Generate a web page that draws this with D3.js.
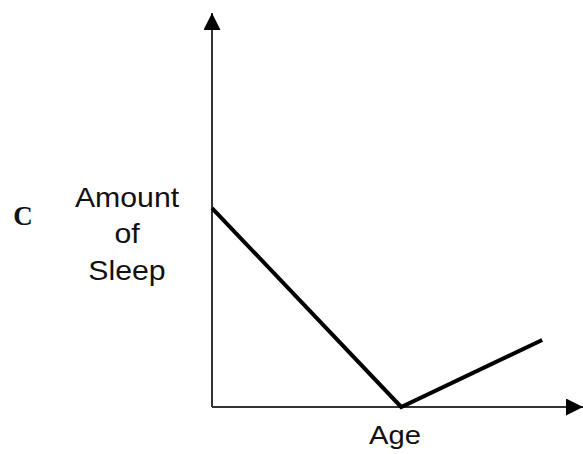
<!DOCTYPE html>
<html>
<head>
<meta charset="utf-8">
<script src="https://cdn.jsdelivr.net/npm/d3@7"></script>
<style>
  html, body { margin: 0; padding: 0; background: #fff; }
  svg { display: block; }
</style>
</head>
<body>
<svg id="chart" width="583" height="454"></svg>
<script>
// sketch values, in arbitrary units
var ages    = [0, 5.1, 8.9];
var amounts = [5.05, 0, 1.7];
var yLabel  = ["Amount", "of", "Sleep"];
var xLabel  = "Age";
var panel   = "C";

var width = 583, height = 454;
var svg = d3.select("#chart");

var x = d3.scaleLinear().domain([0, 10]).range([212, 583]);
var y = d3.scaleLinear().domain([0, 10]).range([407, 13]);

var defs = svg.append("defs");
defs.append("marker")
    .attr("id", "arrow")
    .attr("viewBox", "0 0 10 10")
    .attr("refX", 10).attr("refY", 5)
    .attr("markerWidth", 18).attr("markerHeight", 17)
    .attr("markerUnits", "userSpaceOnUse")
    .attr("orient", "auto")
  .append("path")
    .attr("d", "M0,0 L10,5 L0,10 Z")
    .attr("fill", "#000");

// axes
svg.append("line")
    .attr("x1", x(0)).attr("y1", y(0))
    .attr("x2", x(0)).attr("y2", y(10))
    .attr("stroke", "#333").attr("stroke-width", 2)
    .attr("marker-end", "url(#arrow)");
svg.append("line")
    .attr("x1", x(0)).attr("y1", y(0))
    .attr("x2", x(10)).attr("y2", y(0))
    .attr("stroke", "#333").attr("stroke-width", 2)
    .attr("marker-end", "url(#arrow)");

var pts = ages.map(function(a, i) { return [a, amounts[i]]; });
var line = d3.line()
    .x(function(d) { return x(d[0]); })
    .y(function(d) { return y(d[1]); });

svg.append("path")
    .datum(pts)
    .attr("d", line)
    .attr("fill", "none")
    .attr("stroke", "#000")
    .attr("stroke-width", 4)
    .attr("stroke-linejoin", "miter");

// labels (source text is a bit wide, so stretch it)
var yl = svg.append("g")
    .attr("transform", "translate(127,0) scale(1.1,1)");
yl.selectAll("text")
  .data(yLabel)
  .enter().append("text")
    .attr("x", 0)
    .attr("y", function(d, i) { return 207 + i * 36.5; })
    .attr("text-anchor", "middle")
    .attr("font-family", "Liberation Sans, Arial, sans-serif")
    .attr("font-size", 27.5)
    .attr("fill", "#111")
    .text(function(d) { return d; });

svg.append("g")
    .attr("transform", "translate(395,0) scale(1.1,1)")
  .append("text")
    .attr("x", 0).attr("y", 444)
    .attr("text-anchor", "middle")
    .attr("font-family", "Liberation Sans, Arial, sans-serif")
    .attr("font-size", 26.5)
    .attr("fill", "#111")
    .text(xLabel);

svg.append("text")
    .attr("x", 23).attr("y", 225)
    .attr("text-anchor", "middle")
    .attr("font-family", "Liberation Serif, Times New Roman, serif")
    .attr("font-weight", "bold")
    .attr("font-size", 27)
    .attr("fill", "#111")
    .text(panel);
</script>
</body>
</html>
